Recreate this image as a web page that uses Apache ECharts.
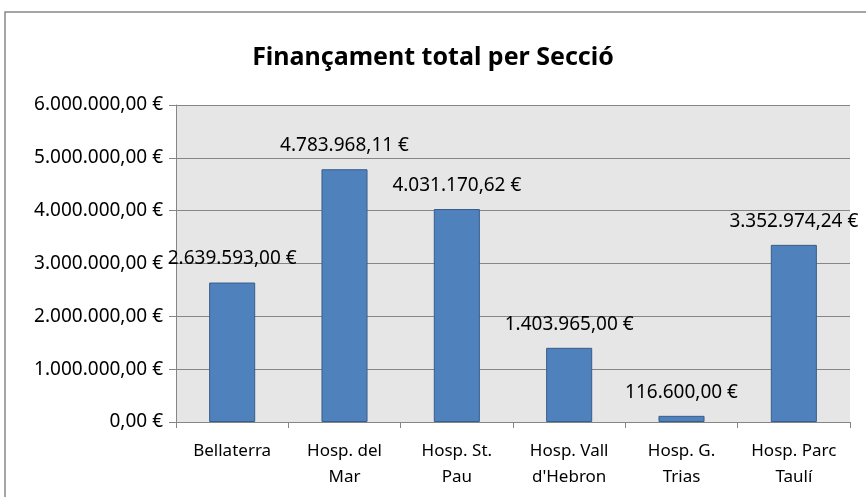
<!DOCTYPE html>
<html>
<head>
<meta charset="utf-8">
<script src="https://cdn.jsdelivr.net/npm/echarts@6/dist/echarts.min.js"></script>
<style>
  html, body { margin: 0; padding: 0; background: #fff; }
  #chart { width: 866px; height: 497px; }
</style>
</head>
<body>
<div id="chart"></div>
<script>
var categories = ['Bellaterra', 'Hosp. del\nMar', 'Hosp. St.\nPau', "Hosp. Vall\nd'Hebron", 'Hosp. G.\nTrias', 'Hosp. Parc\nTaulí'];
var values = [2639593.00, 4783968.11, 4031170.62, 1403965.00, 116600.00, 3352974.24];

// 1234567.8 -> "1.234.567,80 €"
function euro(v) {
  var parts = Number(v).toFixed(2).split('.');
  var ent = parts[0].replace(/\B(?=(\d{3})+(?!\d))/g, '.');
  return ent + ',' + parts[1] + ' €';
}

var chart = echarts.init(document.getElementById('chart'));
var font = 'Noto Sans';

chart.setOption({
  animation: false,
  title: {
    text: 'Finançament total per Secció',
    left: 'center',
    top: 40,
    textStyle: { fontFamily: font, fontSize: 25, fontWeight: 'bold', color: '#000' }
  },
  graphic: [{
    type: 'rect',
    shape: { x: 5, y: 12, width: 870, height: 500 },
    style: { fill: 'none', stroke: '#888', lineWidth: 1.5 },
    silent: true
  }],
  grid: {
    left: 176,
    right: 16,
    top: 105,
    bottom: 75,
    show: true,
    backgroundColor: '#e6e6e6',
    borderWidth: 0
  },
  xAxis: {
    type: 'category',
    data: categories,
    axisLine: { lineStyle: { color: '#868686' } },
    axisTick: { show: true, length: 6, lineStyle: { color: '#868686' } },
    axisLabel: { interval: 0, fontFamily: font, fontSize: 17, color: '#000', lineHeight: 26, margin: 16 }
  },
  yAxis: {
    type: 'value',
    min: 0,
    max: 6000000,
    interval: 1000000,
    axisLine: { show: true, lineStyle: { color: '#868686' } },
    axisTick: { show: true, length: 7, lineStyle: { color: '#868686' } },
    splitLine: { lineStyle: { color: '#868686', width: 1 } },
    axisLabel: { fontFamily: font, fontSize: 19, color: '#000', margin: 13, formatter: euro }
  },
  series: [{
    type: 'bar',
    data: values,
    barWidth: '41%',
    itemStyle: { color: '#4f81bd', borderColor: '#385d8a', borderWidth: 1 },
    label: {
      show: true,
      position: 'top',
      distance: 14,
      fontFamily: font,
      fontSize: 19,
      color: '#000',
      formatter: function (p) { return euro(p.value); }
    }
  }]
});
</script>
</body>
</html>
